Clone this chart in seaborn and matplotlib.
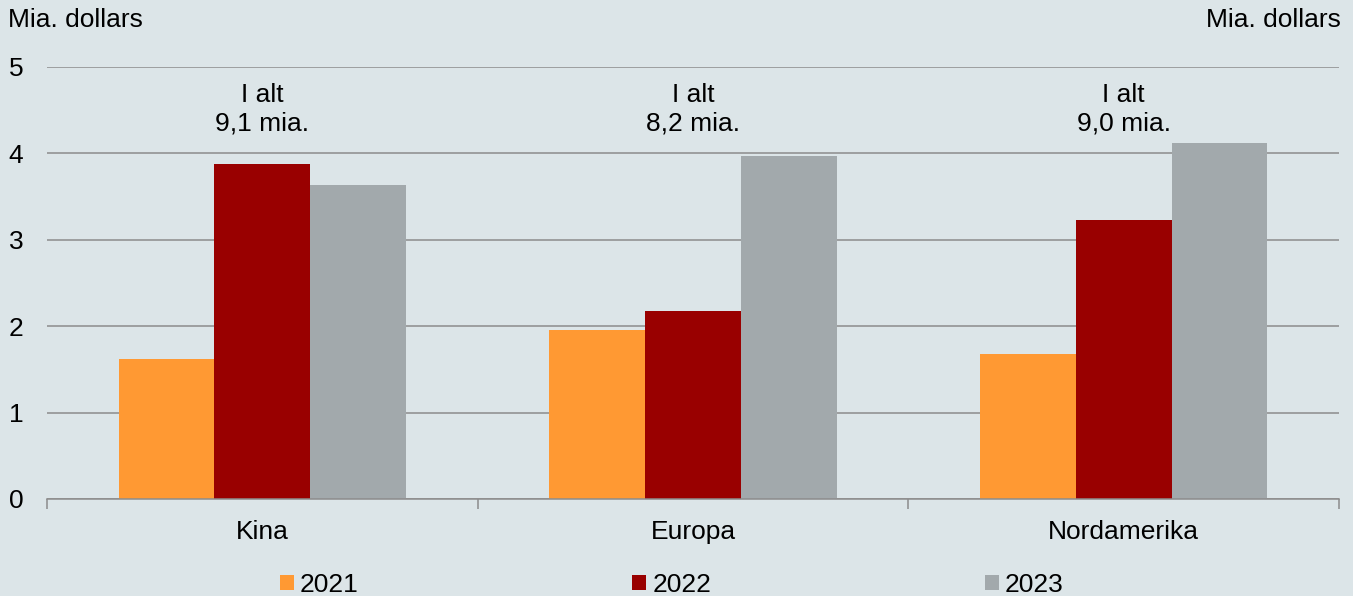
import matplotlib
matplotlib.use("Agg")
import matplotlib.pyplot as plt
import seaborn as sns
import pandas as pd
from matplotlib.ticker import FixedLocator

regions = ["Kina", "Europa", "Nordamerika"]
years = ["2021", "2022", "2023"]
v2021 = [1.62, 1.96, 1.68]
v2022 = [3.88, 2.18, 3.23]
v2023 = [3.63, 3.97, 4.12]
totals = ["I alt\n9,1 mia.", "I alt\n8,2 mia.", "I alt\n9,0 mia."]
yticks = [0, 1, 2, 3, 4, 5]
unit = "Mia. dollars"

colors = ["#FF9933", "#990000", "#A2A9AC"]
bg = "#DCE5E8"
FS = 19

rows = []
for yr, vals in zip(years, [v2021, v2022, v2023]):
    for r, v in zip(regions, vals):
        rows.append({"region": r, "year": yr, "value": v})
df = pd.DataFrame(rows)

sns.set_theme(style="white")
plt.rcParams["font.family"] = ["Liberation Sans", "DejaVu Sans"]
plt.rcParams["text.color"] = "black"
plt.rcParams["xtick.color"] = "black"
plt.rcParams["ytick.color"] = "black"
plt.rcParams["xtick.labelcolor"] = "black"
plt.rcParams["ytick.labelcolor"] = "black"

fig = plt.figure(figsize=(13.53, 5.96), dpi=100, facecolor=bg)
ax = fig.add_axes([47/1353, 97/596, (1339-47)/1353, (499-67)/596])
ax.set_facecolor(bg)

sns.barplot(data=df, x="region", y="value", hue="year", order=regions,
            hue_order=years, palette=colors, width=0.667, linewidth=0,
            saturation=1, ax=ax, legend=True)

ax.set_xlim(-0.5, 2.5)
ax.set_ylim(0, 5)
ax.set_yticks(yticks)
ax.set_yticklabels([str(t) for t in yticks], fontsize=FS)
ax.yaxis.grid(True, color="#8C8C8C", linewidth=1.1)
ax.set_axisbelow(True)
ax.tick_params(axis="y", length=0, pad=17, labelcolor="black")
ax.tick_params(axis="x", which="major", length=0, pad=15, labelsize=FS, labelcolor="black")
ax.xaxis.set_minor_locator(FixedLocator([-0.5, 0.5, 1.5, 2.5]))
ax.tick_params(axis="x", which="minor", length=7, width=1.1, color="#8C8C8C", bottom=True)
ax.set_xlabel("")
ax.set_ylabel("")
for s in ["top", "right", "left"]:
    ax.spines[s].set_visible(False)
ax.spines["bottom"].set_color("#8C8C8C")
ax.spines["bottom"].set_linewidth(1.1)

for i, t in enumerate(totals):
    ax.text(i, 4.51, t, ha="center", va="center", fontsize=FS, linespacing=1.22, color="black")

fig.text(8/1353, 1 - 20/596, unit, ha="left", va="center", fontsize=FS, color="black")
fig.text(1341/1353, 1 - 20/596, unit, ha="right", va="center", fontsize=FS, color="black")

handles, labels = ax.get_legend_handles_labels()
ax.get_legend().remove()
leg = fig.legend(handles, labels, loc="center left", bbox_to_anchor=(280/1353, 1 - 585/596),
                 ncol=3, frameon=False, fontsize=FS, handlelength=0.53, handleheight=0.53,
                 handletextpad=0.22, columnspacing=10.38, borderaxespad=0, borderpad=0)
for t in leg.get_texts():
    t.set_color("black")

fig.savefig("out.png", dpi=100, facecolor=bg)
